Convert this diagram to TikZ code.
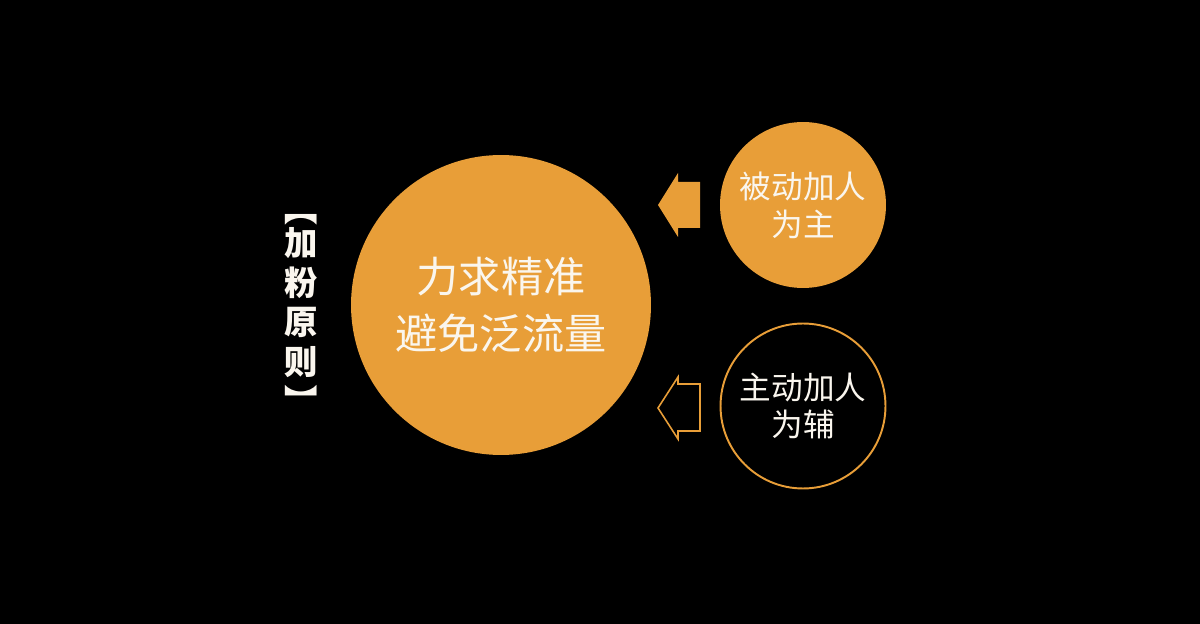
\documentclass[tikz,border=0pt]{standalone}
\usepackage{fontspec}
\newfontfamily\cjk{Noto Sans CJK SC}
\usetikzlibrary{positioning}
\definecolor{fanorange}{RGB}{232,158,56}
\definecolor{softwhite}{RGB}{250,246,238}

\tikzset{
  disc/.style={circle, fill=fanorange, draw=none, text=softwhite, align=center, inner sep=0pt},
  ringdisc/.style={circle, draw=fanorange, line width=1.1pt, fill=black, text=softwhite, align=center, inner sep=0pt},
  bigtext/.style={font=\cjk\fontsize{24}{32}\selectfont},
  smalltext/.style={font=\cjk\fontsize{18}{21.5}\selectfont},
  sidetext/.style={text=softwhite, align=center, inner sep=0pt, font=\cjk\bfseries\fontsize{19}{22.5}\selectfont},
}
\newcommand\turnbracket[1]{\rotatebox[origin=c]{-90}{#1}}

\begin{document}
\begin{tikzpicture}[x=0.02cm,y=-0.02cm]
\fill[black] (0,0) rectangle (1200,624);

\path (501,305) node[disc, bigtext, minimum size=6cm] (goal) {力求精准\\避免泛流量};
\path (803,205) node[disc, smalltext, minimum size=3.32cm] (passive) {被动加人\\为主};
\path (803,406) node[ringdisc, smalltext, minimum size=3.3cm] (active) {主动加人\\为辅};

\path (301,305) node[sidetext] (rule)
	{\turnbracket{【}\\[-3pt]加\\粉\\原\\则\\\turnbracket{】}};

% block arrows between the discs
\coordinate (tip-p) at (658,205);
\coordinate (tip-a) at (658,408);
\fill[fanorange] (tip-p) -- ++(20,-32) -- ++(0,9) -- ++(22,0) -- ++(0,46)
	-- ++(-22,0) -- ++(0,9) -- cycle;
\draw[fanorange, line width=0.9pt, line join=miter] (tip-a) -- ++(20,-31) -- ++(0,7) -- ++(22,0) -- ++(0,47)
	-- ++(-22,0) -- ++(0,8) -- cycle;
\end{tikzpicture}
\end{document}
